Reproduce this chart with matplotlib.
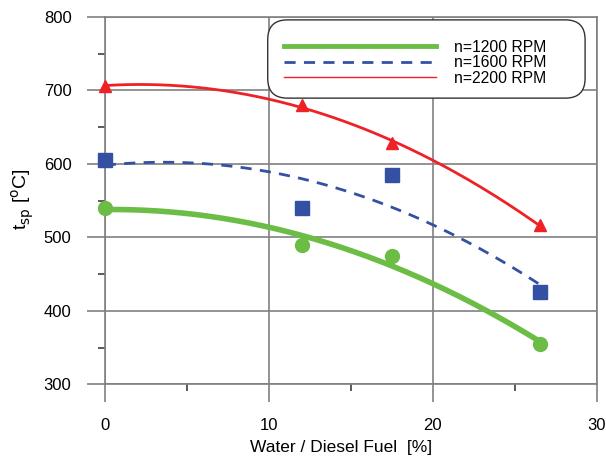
import numpy as np
import matplotlib.pyplot as plt
from matplotlib.lines import Line2D
from matplotlib.patches import FancyBboxPatch
from matplotlib.ticker import MultipleLocator

plt.rcParams['font.family'] = ['Liberation Sans', 'DejaVu Sans']

water = [0, 12, 17.5, 26.5]
t_1200 = [540, 490, 475, 355]
t_1600 = [605, 540, 585, 425]
t_2200 = [706, 680, 628, 517]
labels = ['n=1200 RPM', 'n=1600 RPM', 'n=2200 RPM']

green = '#6bbd45'
blue = '#3350a3'
red = '#ee2226'

fig = plt.figure(figsize=(6.06, 4.58), dpi=100)
ax = fig.add_axes([0.173, 0.161, 0.812, 0.802])

xs = np.linspace(water[0], water[-1], 200)
series = [
    (t_1200, green, '-', 4.0, 'o', 10),
    (t_1600, blue, (0, (4, 3)), 2.0, 's', 10),
    (t_2200, red, '-', 2.0, '^', 9),
]
for vals, col, ls, lw, mk, ms in series:
    coef = np.polyfit(water, vals, 2)
    ax.plot(xs, np.polyval(coef, xs), color=col, ls=ls, lw=lw, zorder=3)
    ax.plot(water, vals, ls='none', marker=mk, ms=ms, color=col, mec=col, zorder=4, clip_on=False)

ax.set_xlim(0, 30)
ax.set_ylim(300, 800)
ax.xaxis.set_major_locator(MultipleLocator(10))
ax.xaxis.set_minor_locator(MultipleLocator(5))
ax.yaxis.set_major_locator(MultipleLocator(100))
ax.yaxis.set_minor_locator(MultipleLocator(50))
ax.grid(True, which='major', color='#808080', lw=1.2)
ax.set_axisbelow(True)
ax.tick_params(which='major', direction='out', length=13, width=1.2, color='#808080', labelsize=12, pad=11)
ax.tick_params(which='minor', direction='out', length=5, width=1.2, color='#404040')
for s in ax.spines.values():
    s.set_color('#808080')
    s.set_linewidth(1.2)

ax.set_xlabel('Water / Diesel Fuel  [%]', fontsize=12.5)
ax.xaxis.set_label_coords(0.48, -0.153)
ax.set_ylabel('t$_{\\mathrm{sp}}$ [$^{\\mathrm{o}}$C]', fontsize=14)
ax.yaxis.set_label_coords(-0.139, 0.505)

# rounded legend frame
box = FancyBboxPatch((0.331, 0.779), 0.645, 0.213, transform=ax.transAxes,
                     boxstyle='round,pad=0,rounding_size=0.04', mutation_aspect=1.34,
                     facecolor='white', edgecolor='#333333', lw=1.0, zorder=5)
ax.add_patch(box)

handles = [
    Line2D([], [], color=green, lw=3.5),
    Line2D([], [], color=blue, lw=2, ls=(0, (4, 3))),
    Line2D([], [], color=red, lw=1),
]
leg = ax.legend(handles, labels, loc='upper left', bbox_to_anchor=(0.364, 0.938),
                fontsize=11.3, handlelength=9.7, handletextpad=1.15, labelspacing=0.03,
                borderpad=0, borderaxespad=0, frameon=False)
leg.set_zorder(6)

fig.savefig('out.png', dpi=100)
